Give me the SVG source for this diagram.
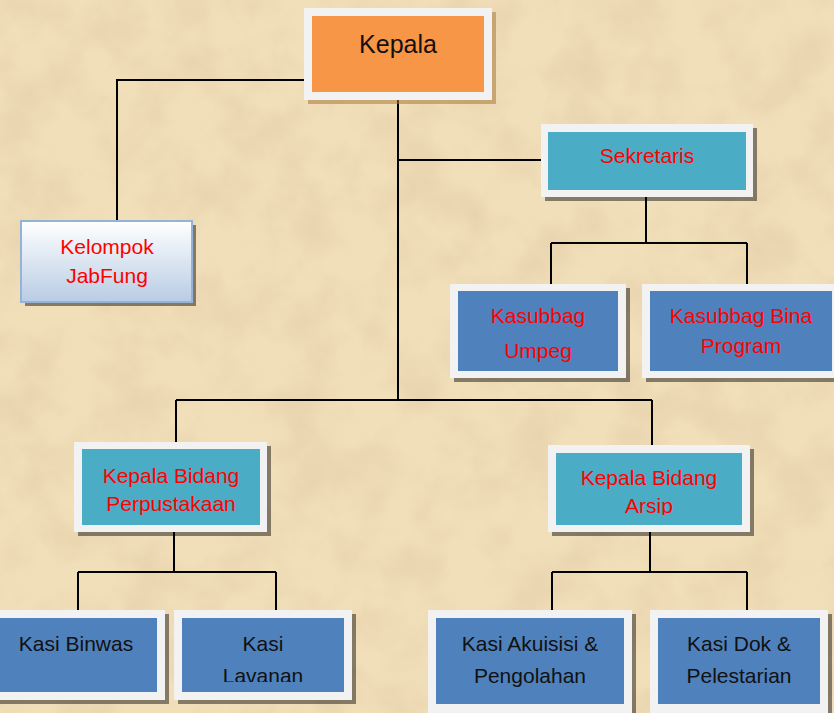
<svg xmlns="http://www.w3.org/2000/svg" width="834" height="713" viewBox="0 0 834 713">
<defs>
<filter id="paper" x="0" y="0" width="100%" height="100%">
<feTurbulence type="fractalNoise" baseFrequency="0.018" numOctaves="4" seed="7" result="n"/>
<feColorMatrix in="n" type="matrix" values="0 0 0 0 0.78  0 0 0 0 0.63  0 0 0 0 0.40  1.6 0 0 0 -0.62"/>
</filter>
<linearGradient id="kgrad" x1="0" y1="0" x2="0" y2="1">
<stop offset="0" stop-color="#ffffff"/>
<stop offset="1" stop-color="#b8cce4"/>
</linearGradient>
<clipPath id="clipArsip"><rect x="556" y="453" width="186" height="62"/></clipPath>
<clipPath id="clipLav"><rect x="182" y="618" width="162" height="64"/></clipPath>
</defs>
<style>
.frame{fill:#f2f2f2}
.sh{fill:#000;opacity:0.45}
.teal{fill:#4bacc6}
.blue{fill:#4f81bd}
.t{font-family:"Liberation Sans",Arial,sans-serif;font-size:21px;text-anchor:middle}
.red{fill:#ff0000}
.blk{fill:#111}
.conn{fill:none;stroke:#000;stroke-width:2}
</style>
<rect x="0" y="0" width="834" height="713" fill="#f1dfb9"/>
<rect x="0" y="0" width="834" height="713" filter="url(#paper)"/>

<g id="connectors" class="conn">
<path d="M313 80 H117 V221"/>
<path d="M398 92 V400"/>
<path d="M398 160 H548"/>
<path d="M646 190 V243 M551 243 H747 M551 243 V290 M747 243 V290"/>
<path d="M176 400 H652 M176 400 V449 M652 400 V453"/>
<path d="M174 525 V572 M78 572 H276 M78 572 V618 M276 572 V618"/>
<path d="M650 525 V572 M552 572 H747 M552 572 V618 M747 572 V618"/>
</g>

<g id="kepala">
<rect x="308" y="12" width="188" height="92" fill="#a87a3c" opacity="0.55"/>
<rect class="frame" x="304" y="8" width="188" height="92"/>
<rect x="312" y="16" width="172" height="76" fill="#f79646"/>
<text class="t blk" x="398" y="53" style="font-size:25px">Kepala</text>
</g>

<g id="kelompok">
<rect class="sh" x="25" y="225" width="171" height="81"/>
<rect x="21" y="221" width="171" height="81" fill="url(#kgrad)" stroke="#95b3d7" stroke-width="2"/>
<text class="t red" x="107" y="254">Kelompok</text>
<text class="t red" x="107" y="283">JabFung</text>
</g>

<g id="sekretaris">
<rect class="sh" x="545" y="128" width="212" height="73"/>
<rect class="frame" x="541" y="124" width="212" height="73"/>
<rect class="teal" x="548" y="132" width="198" height="58"/>
<text class="t red" x="647" y="163">Sekretaris</text>
</g>

<g id="kasubbag-umpeg">
<rect class="sh" x="454" y="288" width="176" height="94"/>
<rect class="frame" x="450" y="284" width="176" height="94"/>
<rect class="blue" x="458" y="291" width="160" height="80"/>
<text class="t red" x="538" y="323">Kasubbag</text>
<text class="t red" x="538" y="358">Umpeg</text>
</g>

<g id="kasubbag-bina">
<rect class="sh" x="646" y="288" width="200" height="94"/>
<rect class="frame" x="642" y="284" width="200" height="94"/>
<rect class="blue" x="650" y="291" width="182" height="80"/>
<text class="t red" x="741" y="323">Kasubbag Bina</text>
<text class="t red" x="741" y="353">Program</text>
</g>

<g id="kabid-perpustakaan">
<rect class="sh" x="78" y="446" width="193" height="90"/>
<rect class="frame" x="74" y="442" width="193" height="90"/>
<rect class="teal" x="82" y="449" width="178" height="76"/>
<text class="t red" x="171" y="483">Kepala Bidang</text>
<text class="t red" x="171" y="511">Perpustakaan</text>
</g>

<g id="kabid-arsip">
<rect class="sh" x="552" y="449" width="202" height="87"/>
<rect class="frame" x="548" y="445" width="202" height="87"/>
<rect class="teal" x="556" y="453" width="186" height="72"/>
<text class="t red" x="649" y="485">Kepala Bidang</text>
<text class="t red" x="649" y="513" clip-path="url(#clipArsip)">Arsip</text>
</g>

<g id="kasi-binwas">
<rect class="sh" x="-6" y="614" width="175" height="90"/>
<rect class="frame" x="-10" y="610" width="175" height="90"/>
<rect class="blue" x="-10" y="618" width="167" height="74"/>
<text class="t blk" x="76" y="651">Kasi Binwas</text>
</g>

<g id="kasi-layanan">
<rect class="sh" x="178" y="614" width="178" height="90"/>
<rect class="frame" x="174" y="610" width="178" height="90"/>
<rect class="blue" x="182" y="618" width="162" height="74"/>
<text class="t blk" x="263" y="651">Kasi</text>
<text class="t blk" x="263" y="683" clip-path="url(#clipLav)">Lavanan</text>
</g>

<g id="kasi-akuisisi">
<rect class="sh" x="432" y="614" width="204" height="103"/>
<rect class="frame" x="428" y="610" width="204" height="103"/>
<rect class="blue" x="436" y="618" width="188" height="86"/>
<text class="t blk" x="530" y="651">Kasi Akuisisi &amp;</text>
<text class="t blk" x="530" y="683">Pengolahan</text>
</g>

<g id="kasi-dok">
<rect class="sh" x="654" y="614" width="178" height="103"/>
<rect class="frame" x="650" y="610" width="178" height="103"/>
<rect class="blue" x="658" y="618" width="162" height="86"/>
<text class="t blk" x="739" y="651">Kasi Dok &amp;</text>
<text class="t blk" x="739" y="683">Pelestarian</text>
</g>
</svg>
